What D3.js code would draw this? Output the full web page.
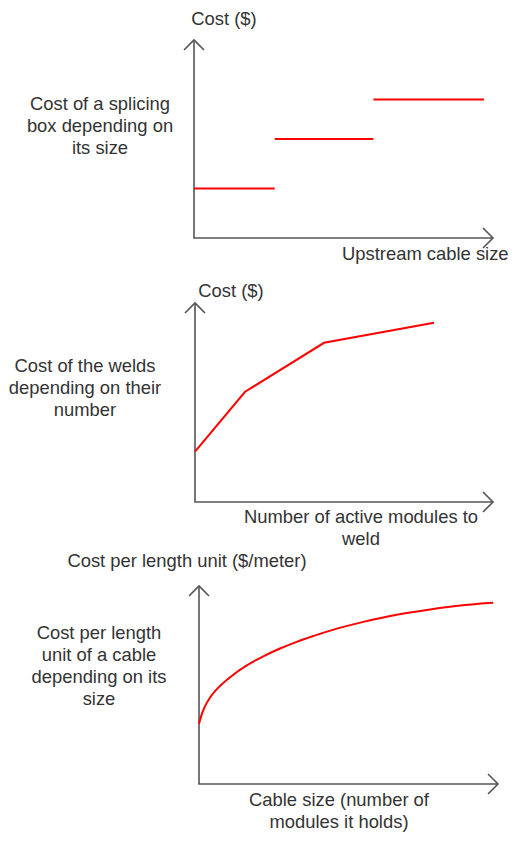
<!DOCTYPE html>
<html>
<head>
<meta charset="utf-8">
<script src="https://cdn.jsdelivr.net/npm/d3@7"></script>
<style>
	body { margin: 0; background: #fff; }
	svg text { font-family: "Liberation Sans", Arial, sans-serif; font-size: 18.4px; fill: #333; }
</style>
</head>
<body>
<div id="chart"></div>
<script>
// values are in arbitrary units, 0..10 on each axis
var boxSteps = [
	{x0: 0, x1: 2.7, y: 2.5},
	{x0: 2.7, x1: 6.0, y: 5.0},
	{x0: 6.0, x1: 9.7, y: 7.0}
];

var weldX = [0, 1.68, 4.33, 8.02];
var weldY = [2.53, 5.54, 8.0, 9.01];

var cableX = [0, 0.1, 0.25, 0.48, 1.04, 1.6, 2.15, 2.71, 3.27, 3.82, 4.38, 5.5, 6.61, 7.73, 8.84, 9.84];
var cableY = [3.03, 3.6, 4.1, 4.66, 5.42, 6.01, 6.46, 6.85, 7.19, 7.47, 7.76, 8.2, 8.57, 8.82, 9.04, 9.16];

var yTitles = ["Cost ($)", "Cost ($)", "Cost per length unit ($/meter)"];
var sideLabels = [
	["Cost of a splicing", "box depending on", "its size"],
	["Cost of the welds", "depending on their", "number"],
	["Cost per length", "unit of a cable", "depending on its", "size"]
];
var xTitles = [
	["Upstream cable size"],
	["Number of active modules to", "weld"],
	["Cable size (number of", "modules it holds)"]
];

var width = 515, height = 846;

var svg = d3.select("#chart").append("svg")
	.attr("width", width)
	.attr("height", height);

// layout of each small chart (axis corner, arrow tips, label spots)
var panels = [
	{ox: 194, oy: 238, tx: 493, ty: 40,
		yt: {x: 224, y: 25}, side: {x: 100, y: 110}, xt: {x: 342, y: 260, anchor: "start"}},
	{ox: 195, oy: 502, tx: 493, ty: 303,
		yt: {x: 231, y: 297}, side: {x: 85, y: 372}, xt: {x: 361, y: 523, anchor: "middle"}},
	{ox: 199, oy: 784, tx: 498, ty: 586,
		yt: {x: 187, y: 567}, side: {x: 99, y: 639}, xt: {x: 339, y: 806, anchor: "middle"}}
];

var lineH = 22;

panels.forEach(function(p, i)
{
	var g = svg.append("g");

	p.x = d3.scaleLinear().domain([0, 10]).range([p.ox, p.tx]);
	p.y = d3.scaleLinear().domain([0, 10]).range([p.oy, p.ty]);

	// axes with open arrow heads
	var axis = g.append("g")
		.attr("fill", "none")
		.attr("stroke", "#555")
		.attr("stroke-width", 1.6);

	axis.append("path")
		.attr("d", d3.line()([[p.ox, p.ty], [p.ox, p.oy], [p.tx, p.oy]]));
	axis.append("path")
		.attr("d", d3.line()([[p.ox - 10, p.ty + 10], [p.ox, p.ty], [p.ox + 10, p.ty + 10]]));
	axis.append("path")
		.attr("d", d3.line()([[p.tx - 10, p.oy - 10], [p.tx, p.oy], [p.tx - 10, p.oy + 10]]));

	g.append("text")
		.attr("x", p.yt.x)
		.attr("y", p.yt.y)
		.attr("text-anchor", "middle")
		.text(yTitles[i]);

	g.append("text")
		.attr("text-anchor", "middle")
		.selectAll("tspan")
		.data(sideLabels[i])
		.join("tspan")
			.attr("x", p.side.x)
			.attr("y", function(d, k) { return p.side.y + k * lineH; })
			.text(function(d) { return d; });

	g.append("text")
		.attr("text-anchor", p.xt.anchor)
		.selectAll("tspan")
		.data(xTitles[i])
		.join("tspan")
			.attr("x", p.xt.x)
			.attr("y", function(d, k) { return p.xt.y + k * lineH; })
			.text(function(d) { return d; });

	p.g = g;
});

// chart 1: step costs
var p1 = panels[0];
p1.g.selectAll(".step")
	.data(boxSteps)
	.join("line")
		.attr("class", "step")
		.attr("x1", function(d) { return p1.x(d.x0); })
		.attr("x2", function(d) { return p1.x(d.x1); })
		.attr("y1", function(d) { return p1.y(d.y); })
		.attr("y2", function(d) { return p1.y(d.y); })
		.attr("stroke", "#ff0000")
		.attr("stroke-width", 2);

// chart 2: piecewise linear
var p2 = panels[1];
p2.g.append("path")
	.datum(d3.zip(weldX, weldY))
	.attr("fill", "none")
	.attr("stroke", "#ff0000")
	.attr("stroke-width", 2)
	.attr("d", d3.line()
		.x(function(d) { return p2.x(d[0]); })
		.y(function(d) { return p2.y(d[1]); }));

// chart 3: smooth concave curve
var p3 = panels[2];
p3.g.append("path")
	.datum(d3.zip(cableX, cableY))
	.attr("fill", "none")
	.attr("stroke", "#ff0000")
	.attr("stroke-width", 2)
	.attr("d", d3.line()
		.curve(d3.curveBasis)
		.x(function(d) { return p3.x(d[0]); })
		.y(function(d) { return p3.y(d[1]); }));
</script>
</body>
</html>
